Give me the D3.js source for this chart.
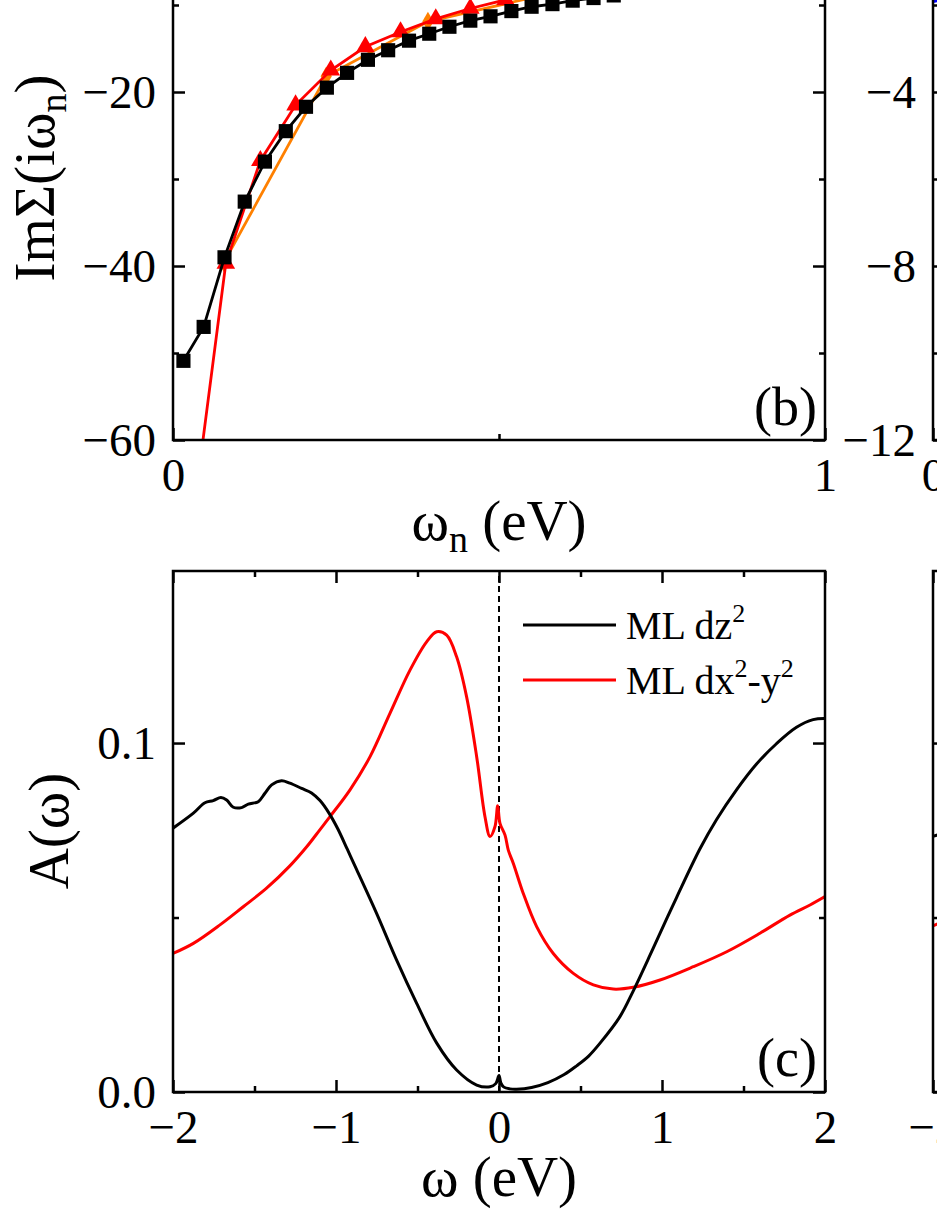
<!DOCTYPE html>
<html>
<head>
<meta charset="utf-8">
<script src="https://cdn.jsdelivr.net/npm/d3@7"></script>
<style>
  body { margin: 0; background: #fff; }
  svg { display: block; }
  text { font-family: "Liberation Serif", "DejaVu Serif", serif; fill: #000; }
</style>
</head>
<body>
<div id="chart"></div>
<script>
// ---- panel (b): Im Sigma(i w_n) on Matsubara axis ----
var wnBlack = [0.016, 0.047, 0.079, 0.110, 0.141, 0.173, 0.204, 0.236, 0.267, 0.299, 0.330, 0.362,
  0.393, 0.424, 0.456, 0.487, 0.519, 0.550, 0.582, 0.613, 0.645, 0.676, 0.707];
var sigBlack = [-50.9, -47.0, -39.0, -32.6, -28.0, -24.5, -21.7, -19.5, -17.8, -16.3, -15.2, -14.1,
  -13.3, -12.5, -11.8, -11.3, -10.7, -10.2, -9.9, -9.5, -9.2, -8.9, -8.6];
var wnRed = [0.027, 0.081, 0.134, 0.188, 0.242, 0.295, 0.349, 0.403, 0.456, 0.510, 0.564, 0.617];
var sigRed = [-71.0, -39.7, -27.9, -21.5, -17.5, -14.8, -13.1, -11.6, -10.4, -9.4, -8.7, -8.1];
var wnOrange = [0.078, 0.235, 0.391, 0.548, 0.704];
var sigOrange = [-39.6, -18.2, -11.9, -9.2, -7.8];

// ---- panel (c): spectral functions ----
var dz2 = [[-2.0, 0.0756], [-1.875, 0.0799], [-1.804, 0.0829], [-1.753, 0.0835], [-1.706, 0.0844],
  [-1.671, 0.0837], [-1.630, 0.0816], [-1.579, 0.0815], [-1.538, 0.0825], [-1.477, 0.0832],
  [-1.436, 0.0856], [-1.395, 0.0880], [-1.334, 0.0892], [-1.283, 0.0885], [-1.211, 0.0870],
  [-1.150, 0.0857], [-1.098, 0.0835], [-1.040, 0.0797], [-0.990, 0.0755], [-0.930, 0.0695],
  [-0.874, 0.0638], [-0.751, 0.0512], [-0.628, 0.0378], [-0.505, 0.0254], [-0.382, 0.0140],
  [-0.260, 0.0063], [-0.137, 0.0020], [-0.055, 0.0015], [-0.020, 0.0024], [0.0, 0.0047],
  [0.012, 0.0025], [0.030, 0.0014], [0.067, 0.0009], [0.108, 0.0008], [0.200, 0.0013],
  [0.300, 0.0027], [0.400, 0.0050], [0.476, 0.0075], [0.550, 0.0103], [0.620, 0.0140],
  [0.742, 0.0216], [0.824, 0.0290], [0.947, 0.0413], [1.090, 0.0558], [1.233, 0.0697],
  [1.335, 0.0781], [1.457, 0.0866], [1.580, 0.0940], [1.702, 0.0998], [1.825, 0.1045],
  [1.927, 0.1067], [2.0, 0.1070]];
var dx2y2 = [[-2.0, 0.0397], [-1.875, 0.0426], [-1.712, 0.0479], [-1.569, 0.0531], [-1.426, 0.0584],
  [-1.283, 0.0648], [-1.181, 0.0702], [-1.098, 0.0752], [-1.037, 0.0789], [-0.914, 0.0866],
  [-0.791, 0.0961], [-0.669, 0.1085], [-0.546, 0.1209], [-0.444, 0.1290], [-0.382, 0.1319],
  [-0.321, 0.1309], [-0.260, 0.1247], [-0.199, 0.1133], [-0.137, 0.0961], [-0.086, 0.0789],
  [-0.055, 0.0732], [-0.025, 0.0760], [-0.008, 0.0820], [0.006, 0.0770], [0.037, 0.0736],
  [0.057, 0.0693], [0.088, 0.0655], [0.149, 0.0569], [0.231, 0.0474], [0.333, 0.0397],
  [0.456, 0.0340], [0.579, 0.0307], [0.701, 0.0295], [0.824, 0.0300], [0.988, 0.0321],
  [1.192, 0.0359], [1.397, 0.0402], [1.601, 0.0455], [1.785, 0.0507], [1.908, 0.0536], [2.0, 0.0560]];

// bits of the neighbouring panels that show at the right edge
var blueD = [[0.0, -1.92], [0.02, -1.86]];
var redE = [[-2.0, 0.0476], [-1.96, 0.0484]];
var blackE = [[-2.0, 0.0733], [-1.96, 0.0738]];

var W = 937, H = 1213;
var svg = d3.select("#chart").append("svg").attr("width", W).attr("height", H);

var FONT_TICK = 47, FONT_TITLE = 57;

// scales
var xB = d3.scaleLinear().domain([0, 1]).range([173, 825]);
var yB = d3.scaleLinear().domain([-60, 0]).range([440, -82]);
var xC = d3.scaleLinear().domain([-2, 2]).range([173, 825]);
var yC = d3.scaleLinear().domain([0, 0.1493]).range([1092, 571]);
var xD = d3.scaleLinear().domain([0, 1]).range([933, 1585]);
var yD = d3.scaleLinear().domain([-12, 0]).range([440, -82]);
var xE = d3.scaleLinear().domain([-2, 2]).range([933, 1585]);

var defs = svg.append("defs");
function clip(id, x, y) {
  defs.append("clipPath").attr("id", id).append("rect")
    .attr("x", x.range()[0]).attr("y", y.range()[1])
    .attr("width", x.range()[1] - x.range()[0])
    .attr("height", y.range()[0] - y.range()[1]);
}
clip("clipB", xB, yB);
clip("clipC", xC, yC);
clip("clipD", xD, yD);
clip("clipE", xE, yC);

function styleAxis(g) {
  g.select(".domain").remove();
  g.selectAll(".tick line").attr("stroke", "#000").attr("stroke-width", 2.5);
  g.attr("font-size", FONT_TICK).attr("font-family", null);
  g.selectAll("text").attr("fill", "#000");
}

// inward ticks on all four sides, labels on left/bottom
function axes(x, y, o) {
  var g = svg.append("g");
  var x0 = x.range()[0], x1 = x.range()[1], y0 = y.range()[0], y1 = y.range()[1];
  g.append("g").attr("transform", "translate(0," + y0 + ")")
    .call(d3.axisBottom(x).tickValues(o.xMajor).tickSize(-12).tickPadding(18)
      .tickFormat(o.xLabels ? o.xFmt : ""))
    .call(styleAxis);
  g.append("g").attr("transform", "translate(0," + y0 + ")")
    .call(d3.axisBottom(x).tickValues(o.xMinor).tickSize(-6).tickFormat(""))
    .call(styleAxis);
  g.append("g").attr("transform", "translate(0," + y1 + ")")
    .call(d3.axisTop(x).tickValues(o.xMajor).tickSize(-12).tickFormat(""))
    .call(styleAxis);
  g.append("g").attr("transform", "translate(0," + y1 + ")")
    .call(d3.axisTop(x).tickValues(o.xMinor).tickSize(-6).tickFormat(""))
    .call(styleAxis);
  g.append("g").attr("transform", "translate(" + x0 + ",0)")
    .call(d3.axisLeft(y).tickValues(o.yMajor).tickSize(-12).tickPadding(17)
      .tickFormat(o.yLabels ? o.yFmt : ""))
    .call(styleAxis);
  g.append("g").attr("transform", "translate(" + x0 + ",0)")
    .call(d3.axisLeft(y).tickValues(o.yMinor).tickSize(-6).tickFormat(""))
    .call(styleAxis);
  g.append("g").attr("transform", "translate(" + x1 + ",0)")
    .call(d3.axisRight(y).tickValues(o.yMajor).tickSize(-12).tickFormat(""))
    .call(styleAxis);
  g.append("g").attr("transform", "translate(" + x1 + ",0)")
    .call(d3.axisRight(y).tickValues(o.yMinor).tickSize(-6).tickFormat(""))
    .call(styleAxis);
  g.append("rect").attr("x", x0).attr("y", y1).attr("width", x1 - x0).attr("height", y0 - y1)
    .attr("fill", "none").attr("stroke", "#000").attr("stroke-width", 2.5);
}

var fmtInt = d3.format("d");
var fmt1 = d3.format(".1f");

// ---------- panel (b) ----------
var gB = svg.append("g").attr("clip-path", "url(#clipB)");
var lineB = d3.line().x(d => xB(d[0])).y(d => yB(d[1]));

function series(g, xs, ys, color, symbol, size) {
  var pts = xs.map((v, i) => [v, ys[i]]);
  g.append("path").datum(pts).attr("d", lineB)
    .attr("fill", "none").attr("stroke", color).attr("stroke-width", 2.8);
  g.selectAll(null).data(pts).enter().append("path")
    .attr("transform", d => "translate(" + xB(d[0]) + "," + yB(d[1]) + ")")
    .attr("d", d3.symbol().type(symbol).size(size))
    .attr("fill", color);
}
series(gB, wnOrange, sigOrange, "#ff8000", d3.symbolDiamond, 110);
series(gB, wnRed, sigRed, "#ff0000", d3.symbolTriangle, 150);
series(gB, wnBlack, sigBlack, "#000000", d3.symbolSquare, 200);

axes(xB, yB, {
  xMajor: [0, 1], xMinor: [0.5], xLabels: true, xFmt: fmtInt,
  yMajor: [-60, -40, -20, 0], yMinor: [-50, -30, -10], yLabels: true, yFmt: fmtInt
});

svg.append("text").attr("x", 817).attr("y", 425).attr("text-anchor", "end")
  .attr("font-size", 54).text("(b)");

svg.append("text").attr("transform", "translate(54,178) rotate(-90)")
  .attr("text-anchor", "middle").attr("font-size", FONT_TITLE)
  .text("ImΣ(iω")
  .call(t => {
    t.append("tspan").attr("font-size", 38).attr("dy", 12).text("n");
    t.append("tspan").attr("dy", -12).text(")");
  });

svg.append("text").attr("x", 499).attr("y", 540).attr("text-anchor", "middle")
  .attr("font-size", FONT_TITLE)
  .text("ω")
  .call(t => {
    t.append("tspan").attr("font-size", 38).attr("dy", 12).text("n");
    t.append("tspan").attr("dy", -12).text(" (eV)");
  });

// ---------- panel (c) ----------
var gC = svg.append("g").attr("clip-path", "url(#clipC)");
var lineC = d3.line().x(d => xC(d[0])).y(d => yC(d[1])).curve(d3.curveCatmullRom.alpha(0.5));

gC.append("line").attr("x1", xC(0)).attr("x2", xC(0))
  .attr("y1", yC.range()[0]).attr("y2", yC.range()[1])
  .attr("stroke", "#000").attr("stroke-width", 2).attr("stroke-dasharray", "6,4");

gC.append("path").datum(dx2y2).attr("d", lineC)
  .attr("fill", "none").attr("stroke", "#ff0000").attr("stroke-width", 3);
gC.append("path").datum(dz2).attr("d", lineC)
  .attr("fill", "none").attr("stroke", "#000").attr("stroke-width", 3);

axes(xC, yC, {
  xMajor: [-2, -1, 0, 1, 2], xMinor: [-1.5, -0.5, 0.5, 1.5], xLabels: true, xFmt: fmtInt,
  yMajor: [0, 0.1], yMinor: [0.05], yLabels: true, yFmt: fmt1
});

// legend
var legend = [
  { color: "#000", parts: [["ML dz", 0], ["2", 1]] },
  { color: "#ff0000", parts: [["ML dx", 0], ["2", 1], ["-y", 0], ["2", 1]] }
];
var lg = svg.append("g");
legend.forEach(function (d, i) {
  var yy = 625 + i * 55;
  lg.append("line").attr("x1", 523).attr("x2", 616).attr("y1", yy).attr("y2", yy)
    .attr("stroke", d.color).attr("stroke-width", 3);
  var t = lg.append("text").attr("x", 626).attr("y", yy + 14).attr("font-size", 40);
  var up = false;
  d.parts.forEach(function (p) {
    var s = t.append("tspan").text(p[0]);
    if (p[1] && !up) { s.attr("font-size", 26).attr("dy", -17); up = true; }
    else if (!p[1] && up) { s.attr("dy", 17); up = false; }
  });
});

svg.append("text").attr("x", 817).attr("y", 1076).attr("text-anchor", "end")
  .attr("font-size", 54).text("(c)");

svg.append("text").attr("transform", "translate(68,831) rotate(-90)")
  .attr("text-anchor", "middle").attr("font-size", FONT_TITLE).text("A(ω)");

svg.append("text").attr("x", 499).attr("y", 1196).attr("text-anchor", "middle")
  .attr("font-size", FONT_TITLE).text("ω (eV)");

// ---------- neighbouring panels (cut off at the right edge) ----------
svg.append("g").attr("clip-path", "url(#clipD)").append("path").datum(blueD)
  .attr("d", d3.line().x(d => xD(d[0])).y(d => yD(d[1])))
  .attr("fill", "none").attr("stroke", "#0000ff").attr("stroke-width", 3);
axes(xD, yD, {
  xMajor: [0, 1], xMinor: [0.5], xLabels: true, xFmt: fmtInt,
  yMajor: [-12, -8, -4, 0], yMinor: [-10, -6, -2], yLabels: true, yFmt: fmtInt
});

var gE = svg.append("g").attr("clip-path", "url(#clipE)");
var lineE = d3.line().x(d => xE(d[0])).y(d => yC(d[1]));
gE.append("path").datum(redE).attr("d", lineE)
  .attr("fill", "none").attr("stroke", "#ff0000").attr("stroke-width", 3);
gE.append("path").datum(blackE).attr("d", lineE)
  .attr("fill", "none").attr("stroke", "#000").attr("stroke-width", 3);
axes(xE, yC, {
  xMajor: [-2, -1, 0, 1, 2], xMinor: [-1.5, -0.5, 0.5, 1.5], xLabels: true, xFmt: fmtInt,
  yMajor: [0, 0.1], yMinor: [0.05], yLabels: false, yFmt: fmt1
});
</script>
</body>
</html>
